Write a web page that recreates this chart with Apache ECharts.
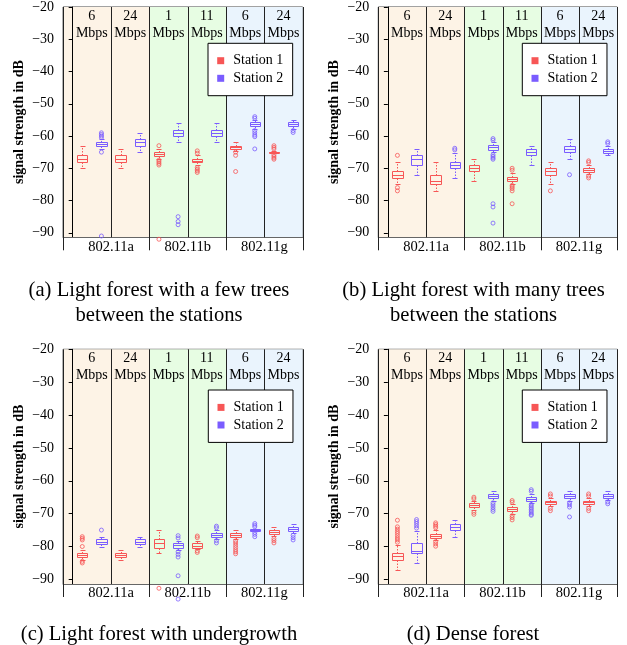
<!DOCTYPE html>
<html><head><meta charset="utf-8">
<script src="https://cdn.jsdelivr.net/npm/echarts@6/dist/echarts.min.js"></script>
<style>html,body{margin:0;padding:0;background:#fff}#c{width:627px;height:645px}</style>
</head><body><div id="c"></div>
<script>
// ---------- data ----------
const rates = ['6', '24', '1', '11', '6', '24'];
const rateGroup = [0, 0, 1, 1, 2, 2];
const groups = ['802.11a', '802.11b', '802.11g'];
const seriesNames = ['Station 1', 'Station 2'];
const yTicks = [-90, -80, -70, -60, -50, -40, -30, -20];
const yAxisTitle = 'signal strength in dB';
const captions = [
  '(a) Light forest with a few trees\nbetween the stations',
  '(b) Light forest with many trees\nbetween the stations',
  '(c) Light forest with undergrowth',
  '(d) Dense forest'
];

// box = [lower whisker, Q1, median, Q3, upper whisker]
const aS1Box = [[-70,-68,-67,-66,-63],[-70,-68,-67,-66,-64],[-67,-66.3,-65.7,-65,-64],[-69,-68.2,-67.6,-67,-66],[-64.5,-64,-63.5,-63,-62],[-65.3,-65.2,-65,-64.8,-64.7]];
const aS1Out = [[],[],[-63,-67.5,-68,-68.5,-69,-92],[-64.6,-65.3,-69.8,-70.3,-70.8,-71.3],[-65,-66,-71],[-63,-63.5,-64,-65.8,-66.3,-66.8,-67.2]];
const aS2Box = [[-64,-63.1,-62.4,-61.7,-61],[-65,-63,-62,-61,-59],[-62,-60,-59,-58,-56],[-62,-60,-59,-58,-56],[-57.8,-57,-56.4,-55.8,-55],[-57.7,-56.9,-56.3,-55.7,-55]];
const aS2Out = [[-59,-59.5,-60,-60.5,-65,-91],[],[-85,-86.5,-87.5],[],[-54,-54.5,-58.3,-59,-59.7,-60.2,-64],[-58.3,-58.9]];

const bS1Box = [[-75,-73,-72,-71,-68],[-77,-75,-74,-72,-68],[-74,-71,-70,-69,-67],[-74.8,-74,-73.4,-72.7,-71.5],[-75,-72,-71,-70,-68],[-71.8,-71.1,-70.5,-69.9,-69]];
const bS1Out = [[-66,-76,-77],[],[],[-70,-70.6,-75.3,-75.8,-76.3,-77,-81],[-77],[-67.7,-68.2,-72.4,-73]];
const bS2Box = [[-72,-69,-67,-66,-64],[-73,-70,-69,-68,-65.3],[-65,-64.2,-63.5,-62.8,-62],[-69,-66,-65,-64,-63],[-67,-65,-64,-63,-61],[-66,-65.2,-64.6,-64,-63.2]];
const bS2Out = [[],[-63.8,-64.3],[-60.8,-61.3,-65.8,-66.3,-66.8,-67.2,-81,-82,-87],[],[-72],[-61.8,-62.3]];

const cS1Box = [[-84,-83.3,-82.6,-81.9,-81],[-84,-83.3,-82.6,-82,-81],[-82,-80.3,-79,-77.8,-75],[-80.8,-80.3,-79.7,-79,-78.2],[-77.8,-77.1,-76.5,-75.9,-75],[-76.8,-76.2,-75.6,-75,-74.2]];
const cS1Out = [[-77,-77.5,-78,-80,-84.5,-85],[],[-92.7],[-76.8,-77.3,-81.3,-81.8],[-78.3,-78.9,-79.6,-80.3,-81,-81.6,-82.2],[-77.6,-78.2,-78.9]];
const cS2Box = [[-80,-79.3,-78.5,-77.8,-77],[-80,-79.3,-78.5,-77.8,-77],[-81,-80.3,-79.6,-78.9,-78.2],[-77.8,-77.2,-76.5,-75.8,-75],[-75.3,-75.2,-75,-74.8,-74.6],[-76,-75.2,-74.6,-74,-73.1]];
const cS2Out = [[-75],[],[-76.7,-77.4,-81.6,-82.4,-83.2,-88.9,-96],[-73.8,-74.3,-78.2,-78.9],[-73,-73.5,-74,-75.7,-76.3,-77],[-76.6,-77.3,-78]];

const dS1Box = [[-87,-84,-83,-82,-79.5],[-78,-77.3,-76.7,-76.1,-75],[-69,-68.1,-67.5,-66.9,-66],[-70,-69.1,-68.5,-67.9,-67],[-67.8,-67.2,-66.6,-66,-65.2],[-67.8,-67.2,-66.6,-66,-65.2]];
const dS1Out = [[-72,-74,-74.7,-75.4,-76,-76.7,-77.4,-78,-78.7],[-72.8,-73.3,-73.8,-74.3,-78.5,-79.2,-79.9],[-65,-65.5,-69.6,-70.2],[-66,-66.5,-70.6,-71.2,-71.9],[-64,-64.6,-68.4,-69.1],[-64,-64.6,-68.4,-69.1]];
const dS2Box = [[-85,-82,-81.3,-79,-75.3],[-77,-75.1,-74.1,-73.1,-72],[-66,-65.2,-64.5,-63.9,-63],[-66.8,-66.2,-65.6,-65,-64],[-66,-65.2,-64.5,-63.9,-63],[-65.8,-65.2,-64.5,-63.9,-63]];
const dS2Out = [[-71.8,-72.4,-73,-73.7,-74.4],[],[-66.7,-67.3,-68,-68.7,-69.3],[-62.7,-63.2,-67.2,-67.7,-68.2,-68.7,-69.2,-69.7,-70.2,-70.5],[-66.7,-67.3,-68,-71],[-66.4,-67]];

// ---------- layout & style ----------
const FONT = 'Liberation Serif';
const X_MIN = -0.25, X_MAX = 6, Y_MIN = -91.4, Y_MAX = -20;
const COLORS = ['#f75656', '#7a5cff'];
const BG = ['#fdf3e6', '#e7fde3', '#eaf4fd'];
const OFFS = [0.25, 0.75];
const BOX_W = 0.27, CAP_W = 0.13;
const EXT = 13;
const gridPos = [
  {left: 63.1, top: 2.7, width: 239.6, height: 234.6},
  {left: 378.3, top: 2.7, width: 239, height: 234.6},
  {left: 63.1, top: 349.3, width: 239.6, height: 234.7},
  {left: 378.3, top: 349.3, width: 239, height: 234.7}
];
const legendPos = [[208, 43.3], [522.3, 43.3], [208.3, 390], [522.3, 390]];
const captionPos = [[159, 278], [473.5, 278], [159, 622], [473, 622]];

const panels = [
  [[aS1Box, aS1Out], [aS2Box, aS2Out]],
  [[bS1Box, bS1Out], [bS2Box, bS2Out]],
  [[cS1Box, cS1Out], [cS2Box, cS2Out]],
  [[dS1Box, dS1Out], [dS2Box, dS2Out]]
];

const fmt = v => (v < 0 ? '\u2212' + Math.abs(v) : String(v));
const px = v => Math.round(v) + 0.5;

function renderBg(params, api) {
  const i = api.value(0), g = api.value(1);
  const x0 = i === 0 ? X_MIN : i;
  const p0 = api.coord([x0, Y_MAX]), p1 = api.coord([i + 1, Y_MIN]);
  return {type: 'rect', shape: {x: p0[0], y: p0[1], width: p1[0] - p0[0], height: p1[1] - p0[1]}, style: {fill: BG[g]}};
}
function renderSep(params, api) {
  const x = api.value(0), ext = api.value(1);
  const p0 = api.coord([x, Y_MAX]), p1 = api.coord([x, Y_MIN]);
  const xx = px(p0[0]);
  return {type: 'line', shape: {x1: xx, y1: p0[1], x2: xx, y2: p1[1] + (ext ? EXT : 0)}, style: {stroke: '#222', lineWidth: 1, fill: null}};
}
function renderRate(params, api) {
  const x = api.value(0);
  const p = api.coord([x, Y_MAX]);
  return {type: 'text', x: p[0], y: p[1] + 1, style: {text: rates[params.dataIndex] + '\nMbps', align: 'center', verticalAlign: 'top', fontFamily: FONT, fontSize: 14, lineHeight: 16.6, fill: '#000'}};
}
function renderGroup(params, api) {
  const x = api.value(0);
  const p = api.coord([x, Y_MIN]);
  return {type: 'text', x: p[0], y: p[1] + 9.5, style: {text: groups[params.dataIndex], align: 'center', verticalAlign: 'middle', fontFamily: FONT, fontSize: 14.5, fill: '#000'}};
}
function renderBox(params, api) {
  const x = api.value(0);
  const lo = api.value(1), q1 = api.value(2), md = api.value(3), q3 = api.value(4), hi = api.value(5);
  const cx = api.coord([x, md])[0];
  const yy = v => px(api.coord([x, v])[1]);
  const bw = api.size([BOX_W, 0])[0] / 2;
  const cw = api.size([CAP_W, 0])[0] / 2;
  const color = api.visual('color');
  const solid = {stroke: color, lineWidth: 1, fill: null};
  const dash = {stroke: color, lineWidth: 1, fill: null, lineDash: [1.5, 1.5]};
  const xl = px(cx - bw), xr = px(cx + bw), xc = px(cx);
  const yt = yy(q3), yb = yy(q1);
  return {type: 'group', children: [
    {type: 'line', shape: {x1: xc, y1: yt, x2: xc, y2: yy(hi)}, style: dash},
    {type: 'line', shape: {x1: xc, y1: yb, x2: xc, y2: yy(lo)}, style: dash},
    {type: 'line', shape: {x1: px(cx - cw), y1: yy(hi), x2: px(cx + cw), y2: yy(hi)}, style: solid},
    {type: 'line', shape: {x1: px(cx - cw), y1: yy(lo), x2: px(cx + cw), y2: yy(lo)}, style: solid},
    {type: 'polyline', shape: {points: [[xl, yt], [xr, yt], [xr, yb], [xl, yb], [xl, yt]]}, style: solid},
    {type: 'line', shape: {x1: xl, y1: yy(md), x2: xr, y2: yy(md)}, style: solid}
  ]};
}

const grids = [], xAxes = [], yAxes = [], series = [], legends = [], graphics = [];

// separator positions derived from the grouping
const sepData = [[X_MIN, 1]];
for (let i = 0; i < rates.length; i++) {
  const isGroupEnd = i === rates.length - 1 || rateGroup[i] !== rateGroup[i + 1];
  sepData.push([i + 1, isGroupEnd ? 1 : 0]);
}
const groupCenters = groups.map((g, k) => {
  const cols = rateGroup.map((gg, i) => gg === k ? i : -1).filter(i => i >= 0);
  return [(cols[0] + cols[cols.length - 1] + 1) / 2];
});

panels.forEach((panel, p) => {
  grids.push(Object.assign({show: true, borderColor: '#444', borderWidth: 1, backgroundColor: 'transparent'}, gridPos[p]));
  xAxes.push({type: 'value', gridIndex: p, min: X_MIN, max: X_MAX,
    axisLine: {show: true, lineStyle: {color: '#666'}}, axisTick: {show: false}, axisLabel: {show: false}, splitLine: {show: false}});
  yAxes.push({type: 'value', gridIndex: p, min: Y_MIN, max: Y_MAX,
    name: yAxisTitle, nameLocation: 'middle', nameGap: 37,
    nameTextStyle: {fontFamily: FONT, fontWeight: 'bold', fontSize: 14, color: '#000'},
    axisLine: {show: true, lineStyle: {color: '#000', width: 1}},
    axisTick: {show: true, length: 4, customValues: yTicks, lineStyle: {color: '#000'}},
    axisLabel: {customValues: yTicks, formatter: fmt, margin: 9, fontFamily: FONT, fontSize: 14, color: '#000'},
    splitLine: {show: false}});
  series.push({type: 'custom', xAxisIndex: p, yAxisIndex: p, z: 0, silent: true, renderItem: renderBg,
    data: rates.map((r, i) => [i, rateGroup[i]])});
  series.push({type: 'custom', xAxisIndex: p, yAxisIndex: p, z: 3, silent: true, renderItem: renderSep, data: sepData});
  series.push({type: 'custom', xAxisIndex: p, yAxisIndex: p, z: 4, silent: true, renderItem: renderRate,
    data: rates.map((r, i) => [i + 0.5])});
  series.push({type: 'custom', xAxisIndex: p, yAxisIndex: p, z: 4, silent: true, renderItem: renderGroup, data: groupCenters});
  panel.forEach(([boxArr, outArr], s) => {
    series.push({type: 'custom', name: seriesNames[s], xAxisIndex: p, yAxisIndex: p, z: 5, silent: true,
      itemStyle: {color: COLORS[s]}, renderItem: renderBox,
      encode: {x: 0, y: [1, 2, 3, 4, 5]},
      data: boxArr.map((b, i) => [i + OFFS[s]].concat(b))});
    const pts = [];
    outArr.forEach((arr, i) => arr.forEach(v => pts.push([i + OFFS[s], v])));
    series.push({type: 'scatter', name: seriesNames[s], xAxisIndex: p, yAxisIndex: p, z: 5, silent: true, clip: false,
      symbol: 'circle', symbolSize: 4,
      itemStyle: {color: 'rgba(0,0,0,0)', borderColor: COLORS[s], borderWidth: 1}, data: pts});
  });
  legends.push({data: seriesNames.map(n => ({name: n, itemStyle: {color: COLORS[seriesNames.indexOf(n)], borderWidth: 0}})),
    orient: 'vertical', left: legendPos[p][0], top: legendPos[p][1],
    backgroundColor: '#fff', borderColor: '#000', borderWidth: 1, padding: [10.4, 9.3, 10.4, 9.2],
    icon: 'rect', itemWidth: 7, itemHeight: 7, itemGap: 3.6, selectedMode: false,
    textStyle: {fontFamily: FONT, fontSize: 14, lineHeight: 14, color: '#000', padding: [0, 0, 0, 4]}});
  graphics.push({type: 'text', x: captionPos[p][0], y: captionPos[p][1],
    style: {text: captions[p], align: 'center', verticalAlign: 'top', fontFamily: FONT, fontSize: 20.6, lineHeight: 25, fill: '#000'}});
});

const chart = echarts.init(document.getElementById('c'), null, {renderer: 'canvas'});
chart.setOption({
  animation: false,
  backgroundColor: '#fff',
  grid: grids, xAxis: xAxes, yAxis: yAxes, legend: legends, series: series, graphic: graphics
});
</script></body></html>
